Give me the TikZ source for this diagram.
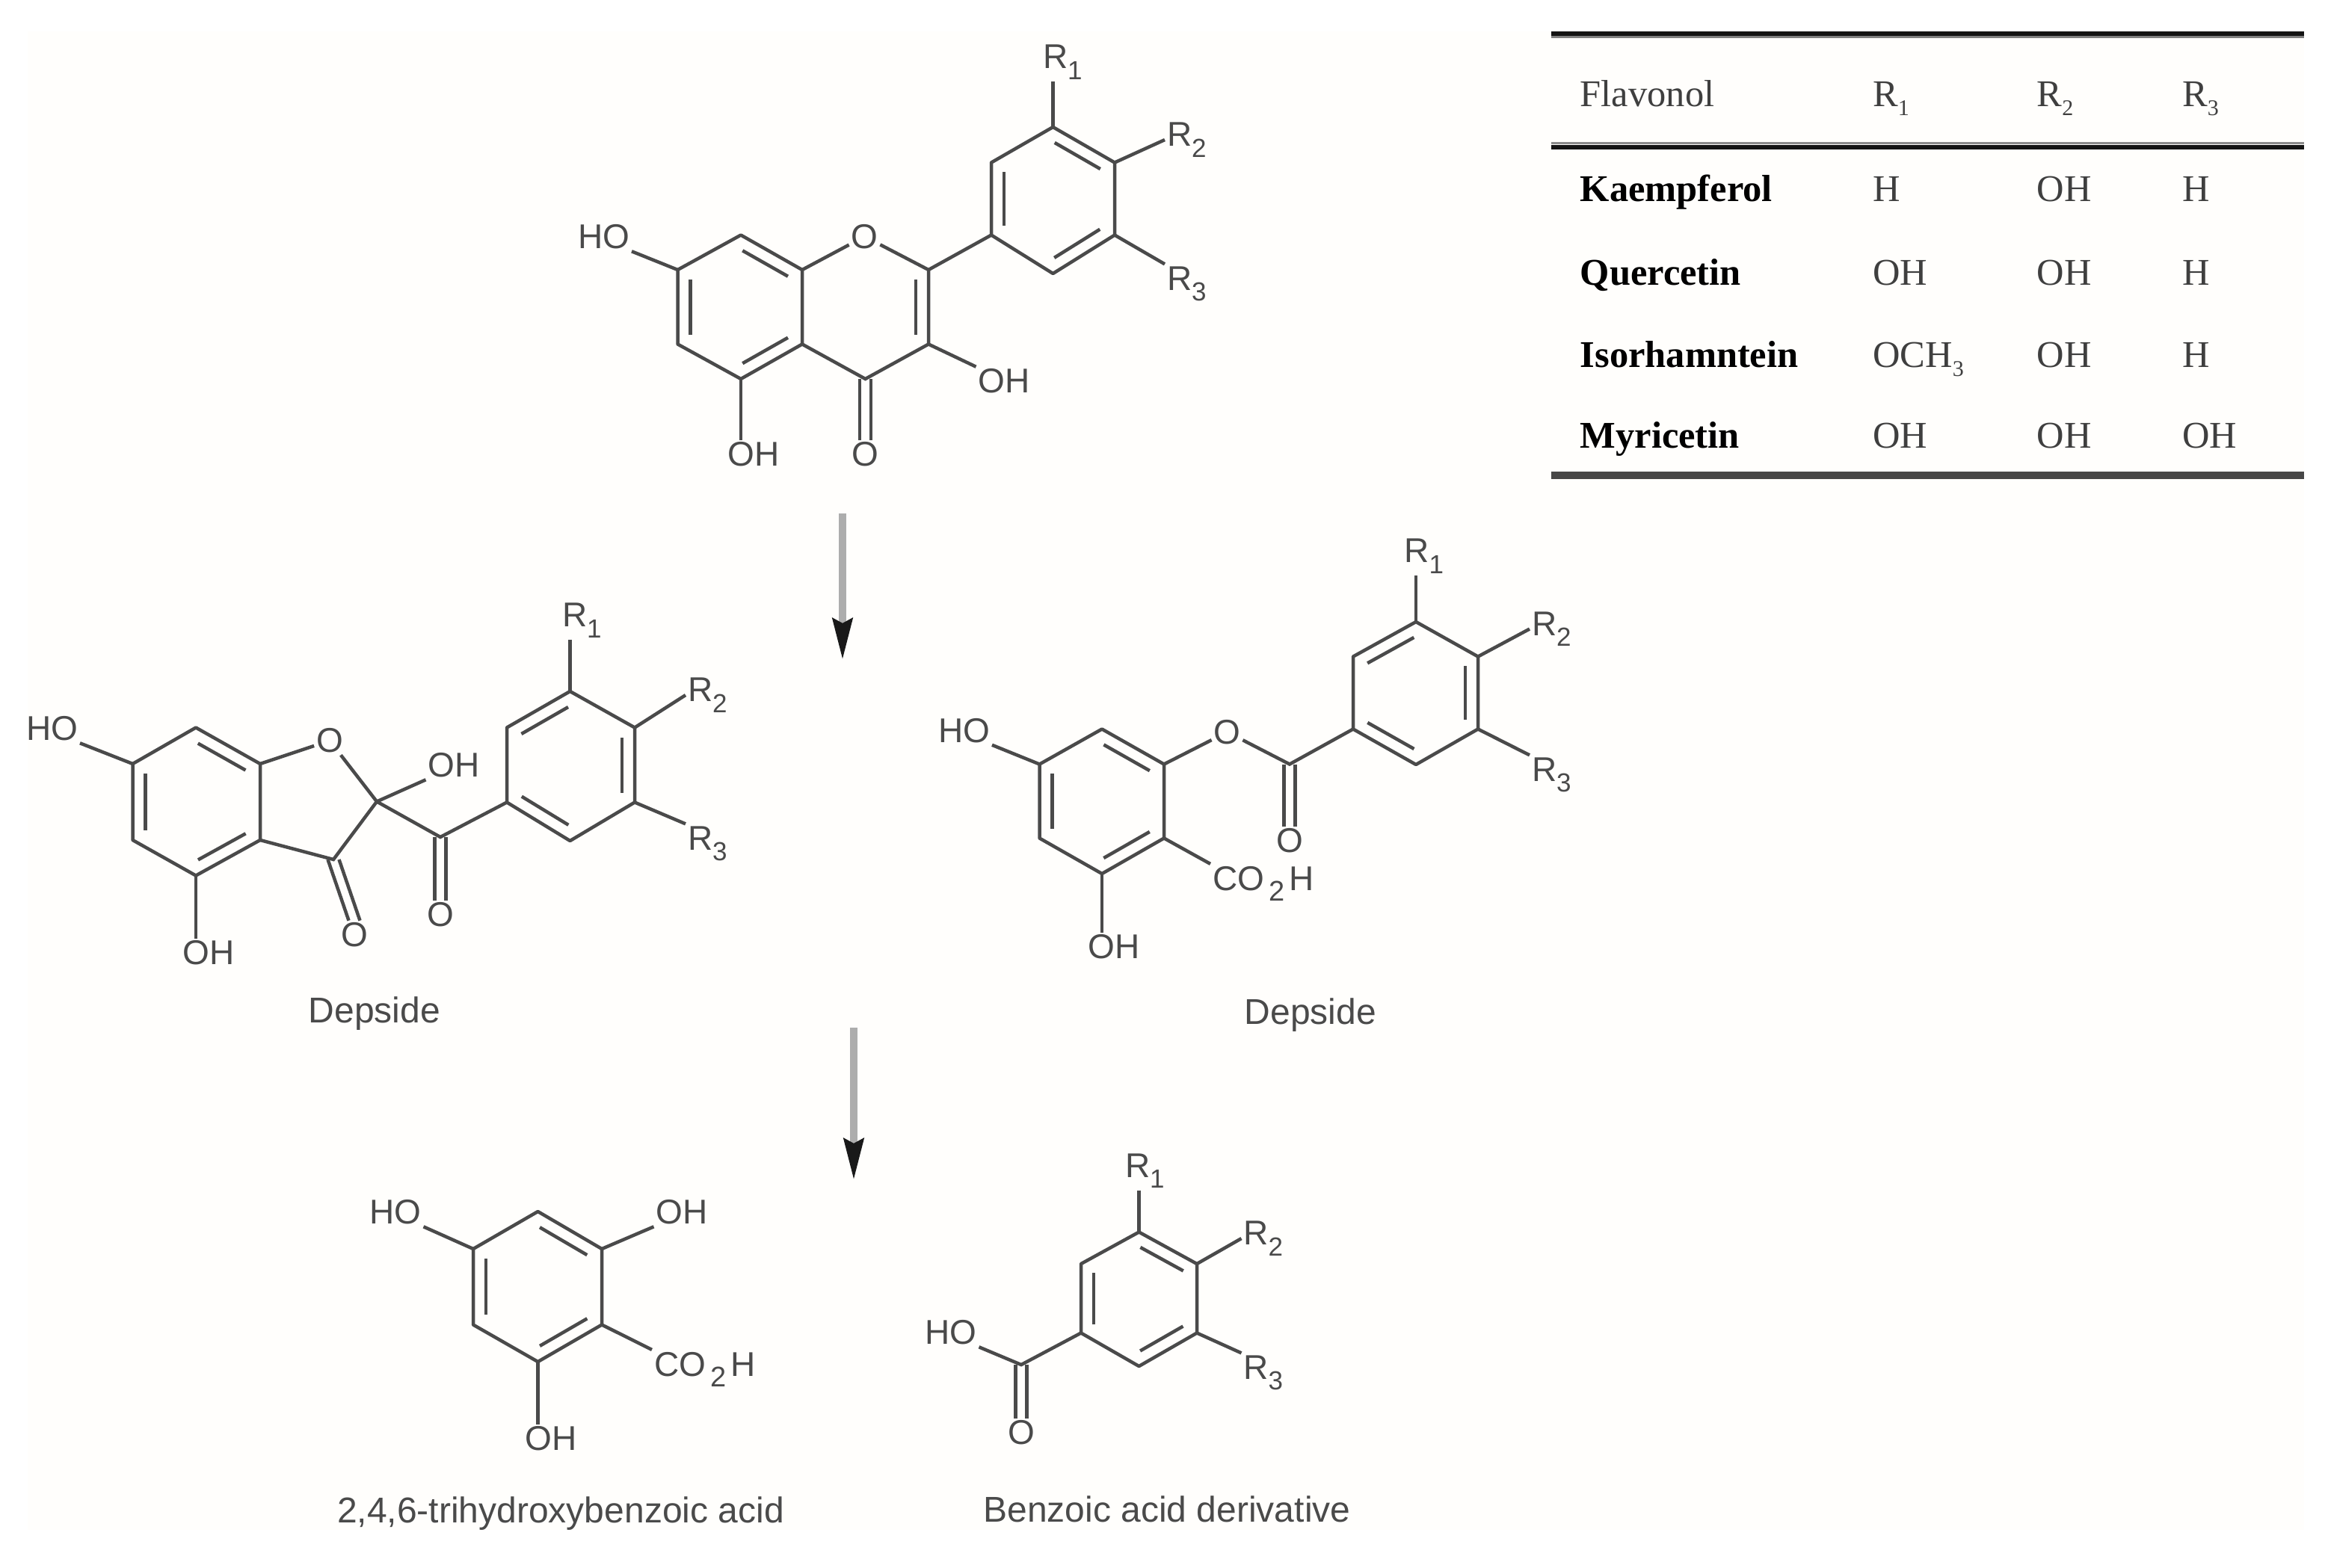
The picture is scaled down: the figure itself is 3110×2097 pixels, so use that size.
\documentclass[tikz,border=0pt]{standalone}
\usepackage{fontspec}
\setmainfont{Liberation Sans}
\newfontfamily\tabfont{Liberation Serif}
\usetikzlibrary{calc,arrows.meta}
\definecolor{ink}{HTML}{4A4A4A}
\definecolor{paper}{HTML}{FFFEFC}
\newcommand{\sbs}[1]{\raisebox{-.32em}{\fontsize{35}{35}\selectfont #1}}
\newcommand{\sbg}[1]{\hspace{6pt}\raisebox{-.32em}{\fontsize{38}{38}\selectfont #1}\hspace{6pt}}
\newcommand{\tsbs}[1]{\raisebox{-.25em}{\fontsize{30}{30}\selectfont #1}}
\newcommand{\inbond}[2]{\draw[bond] ($(#1)!.13!(#2)!17pt!90:(#2)$) -- ($(#2)!.13!(#1)!17pt!-90:(#1)$);}
\newcommand{\dblo}[2]{\draw[bond] ([xshift=-7.5pt]#1) -- ([xshift=-7.5pt]#2); \draw[bond] ([xshift=7.5pt]#1) -- ([xshift=7.5pt]#2);}
\newcommand{\ringv}[7]{%
  \coordinate (#1t) at #2; \coordinate (#1ur) at #3; \coordinate (#1lr) at #4;
  \coordinate (#1b) at #5; \coordinate (#1ll) at #6; \coordinate (#1ul) at #7;
  \draw[bond,line join=round] (#1t)--(#1ur)--(#1lr)--(#1b)--(#1ll)--(#1ul)--cycle;}
\tikzset{
  x=1pt,y=-1pt,
  bond/.style={draw=ink,line width=4.5pt,line cap=butt},
  atom/.style={inner sep=3pt,outer sep=0pt,text=ink,font=\fontsize{46}{50}\selectfont},
  caption/.style={inner sep=0pt,text=ink,font=\fontsize{48}{52}\selectfont},
  cell/.style={anchor=base west,inner sep=0pt,text=ink!85!black,font=\tabfont\fontsize{50.5}{54}\selectfont},
  bcell/.style={anchor=base west,inner sep=0pt,text=black,font=\tabfont\bfseries\fontsize{50.5}{54}\selectfont},
  react/.style={draw=black!32,line width=10pt,-{Stealth[length=55pt,width=26pt,inset=6pt,color=black!90,fill=black!90]}},
}
\begin{document}
\begin{tikzpicture}
\useasboundingbox (0,0) rectangle (3110,2097);
\fill[white] (0,0) rectangle (3110,2097);
\fill[paper] (37,42) rectangle (3082,2047);

% Flavonol
\ringv{fa}{(991,314.5)}{(1073,361)}{(1073,460.5)}{(991,507)}{(906.5,460.5)}{(906.5,361)}
\ringv{fb}{(1408.5,170)}{(1491,217.5)}{(1491,314.5)}{(1408.5,366)}{(1326,314.5)}{(1326,217.5)}
\coordinate (fc2) at (1242,361); \coordinate (fc3) at (1242,460.5); \coordinate (fc4) at (1157.5,507);
\node[atom] (fO) at (1156.5,316.5) {O};
\node[atom] (fHO) at (807.5,317) {HO};
\node[atom] (fOH3) at (1343,510) {OH};
\node[atom] (fOH5) at (1008,608) {OH};
\node[atom] (fO4) at (1157.5,608) {O};
\node[atom,anchor=base west] (fR1) at (1392,91.5) {R\sbs{1}};
\node[atom,anchor=base west] (fR2) at (1558,195.5) {R\sbs{2}};
\node[atom,anchor=base west] (fR3) at (1558,388) {R\sbs{3}};
\draw[bond] (fR1.south -| fbt) -- (fbt);
\draw[bond] (fbur) -- (fR2.west);
\draw[bond] (fblr) -- (fR3.north west);
\draw[bond] (faul) -- (fHO.south east);
\draw[bond] (faur) -- (fO) -- (fc2) -- (fbll);
\draw[bond] (fc2) -- (fc3) -- (fc4) -- (falr);
\draw[bond] (fc3) -- (fOH3.north west);
\draw[bond] (fab) -- (fab |- fOH5.north);
\dblo{fc4}{fO4.north}
\inbond{faur}{fat}\inbond{faul}{fall}\inbond{fab}{falr}
\inbond{fc3}{fc2}
\inbond{fbur}{fbt}\inbond{fbul}{fbll}\inbond{fbb}{fblr}

% Table
\draw[line width=7pt,black!92] (2075,45) -- (3082,45);
\draw[line width=3pt,black!50] (2075,49.5) -- (3082,49.5);
\draw[line width=3.5pt,black!45] (2075,191.5) -- (3082,191.5);
\draw[line width=6pt,black!92] (2075,196.5) -- (3082,196.5);
\draw[line width=10pt,black!72] (2075,636) -- (3082,636);
\node[cell] (h0) at (2113.5,142) {Flavonol};
\node[cell] (h1) at (2505,142) {R\tsbs{1}};
\node[cell] (h2) at (2724.5,142) {R\tsbs{2}};
\node[cell] (h3) at (2919,142) {R\tsbs{3}};
\node[bcell] (k0) at (2113.5,269) {Kaempferol};
\node[cell] (k1) at (2505,269) {H};
\node[cell] (k2) at (2724.5,269) {OH};
\node[cell] (k3) at (2919,269) {H};
\node[bcell] (q0) at (2113.5,381) {Quercetin};
\node[cell] (q1) at (2505,381) {OH};
\node[cell] (q2) at (2724.5,381) {OH};
\node[cell] (q3) at (2919,381) {H};
\node[bcell] (i0) at (2113.5,491) {Isorhamntein};
\node[cell] (i1) at (2505,491) {OCH\tsbs{3}};
\node[cell] (i2) at (2724.5,491) {OH};
\node[cell] (i3) at (2919,491) {H};
\node[bcell] (m0) at (2113.5,599) {Myricetin};
\node[cell] (m1) at (2505,599) {OH};
\node[cell] (m2) at (2724.5,599) {OH};
\node[cell] (m3) at (2919,599) {OH};

% Reaction arrows
\coordinate (a1s) at (1127,687); \coordinate (a1e) at (1127,883);
\draw[react] (a1s) -- (a1e);
\coordinate (a2s) at (1142,1375); \coordinate (a2e) at (1142,1579);
\draw[react] (a2s) -- (a2e);

% Left depside
\ringv{la}{(262,973.5)}{(348,1022)}{(348,1124)}{(262,1171.5)}{(177.5,1124)}{(177.5,1022)}
\ringv{lb}{(762.5,925)}{(849,973.5)}{(849,1073.5)}{(762.5,1125)}{(678,1073.5)}{(678,973.5)}
\node[atom] (lO) at (441,991) {O};
\coordinate (lc2) at (504,1072.5); \coordinate (lc3) at (446,1150); \coordinate (lco) at (589,1120);
\node[atom] (lHO) at (69.5,975) {HO};
\node[atom] (lOHb) at (279,1275) {OH};
\node[atom] (lOH) at (607,1024) {OH};
\node[atom] (lO3) at (474,1251) {O};
\node[atom] (lO4) at (589,1224) {O};
\node[atom,anchor=base west] (lR1) at (749,838.5) {R\sbs{1}};
\node[atom,anchor=base west] (lR2) at (917,938.5) {R\sbs{2}};
\node[atom,anchor=base west] (lR3) at (917,1137) {R\sbs{3}};
\draw[bond] (lR1.south -| lbt) -- (lbt);
\draw[bond] (lbur) -- (lR2.west);
\draw[bond] (lblr) -- (lR3.north west);
\draw[bond] (laul) -- (lHO.south east);
\draw[bond] (lab) -- (lab |- lOHb.north);
\draw[bond] (laur) -- (lO) -- (lc2) -- (lc3) -- (lalr);
\draw[bond] (lc2) -- (lOH.south west);
\draw[bond] (lc2) -- (lco) -- (lbll);
\dblo{lc3}{lO3.north}
\dblo{lco}{lO4.north}
\inbond{laur}{lat}\inbond{laul}{lall}\inbond{lab}{lalr}
\inbond{lbt}{lbul}\inbond{lblr}{lbur}\inbond{lbll}{lbb}
\node[caption] (lcap) at (501,1356) {Depside};

% Right depside
\ringv{ra}{(1474,975.5)}{(1557,1022.5)}{(1557,1121.5)}{(1474,1169)}{(1390.5,1121.5)}{(1390.5,1022.5)}
\ringv{rb}{(1894,832)}{(1977,878.5)}{(1977,975.5)}{(1894,1023)}{(1810,975.5)}{(1810,878.5)}
\node[atom] (rO) at (1641.5,979.5) {O};
\coordinate (rco) at (1725,1022.5);
\node[atom] (rHO) at (1289.5,977.5) {HO};
\node[atom] (rOH) at (1490,1267) {OH};
\node[atom] (rO2) at (1725,1125) {O};
\node[atom,anchor=base west] (rCO) at (1619,1191) {CO\sbg{2}H};
\node[atom,anchor=base west] (rR1) at (1875.5,752.5) {R\sbs{1}};
\node[atom,anchor=base west] (rR2) at (2046,850) {R\sbs{2}};
\node[atom,anchor=base west] (rR3) at (2046,1045) {R\sbs{3}};
\draw[bond] (rR1.south -| rbt) -- (rbt);
\draw[bond] (rbur) -- (rR2.west);
\draw[bond] (rblr) -- (rR3.north west);
\draw[bond] (raul) -- (rHO.south east);
\draw[bond] (rab) -- (rab |- rOH.north);
\draw[bond] (raur) -- (rO) -- (rco) -- (rbll);
\draw[bond] (ralr) -- (rCO.north west);
\dblo{rco}{rO2.north}
\inbond{raur}{rat}\inbond{raul}{rall}\inbond{rab}{ralr}
\inbond{rbt}{rbul}\inbond{rblr}{rbur}\inbond{rbll}{rbb}
\node[caption] (rcap) at (1753,1358) {Depside};

% 2,4,6-trihydroxybenzoic acid
\ringv{ta}{(719.5,1621)}{(805,1671)}{(805,1772.5)}{(719.5,1822)}{(633,1772.5)}{(633,1671)}
\node[atom] (tHO) at (529,1622) {HO};
\node[atom] (tOH) at (912,1622) {OH};
\node[atom] (tOHb) at (737,1925) {OH};
\node[atom,anchor=base west] (tCO) at (872,1841) {CO\sbg{2}H};
\draw[bond] (taul) -- (tHO.south east);
\draw[bond] (taur) -- (tOH.south west);
\draw[bond] (talr) -- (tCO.north west);
\draw[bond] (tab) -- (tab |- tOHb.north);
\inbond{taur}{tat}\inbond{taul}{tall}\inbond{tab}{talr}
\node[caption] (tcap) at (750,2025) {2,4,6-trihydroxybenzoic acid};

% Benzoic acid derivative
\ringv{ba}{(1523.5,1648.5)}{(1601,1691)}{(1601,1783.5)}{(1523.5,1828)}{(1446,1783.5)}{(1446,1691)}
\coordinate (bco) at (1366,1826);
\node[atom] (bHO) at (1272,1783) {HO};
\node[atom] (bO) at (1366,1917) {O};
\node[atom,anchor=base west] (bR1) at (1502,1575) {R\sbs{1}};
\node[atom,anchor=base west] (bR2) at (1660.5,1665.5) {R\sbs{2}};
\node[atom,anchor=base west] (bR3) at (1660.5,1845) {R\sbs{3}};
\draw[bond] (bR1.south -| bat) -- (bat);
\draw[bond] (baur) -- (bR2.west);
\draw[bond] (balr) -- (bR3.north west);
\draw[bond] (ball) -- (bco) -- (bHO.south east);
\dblo{bco}{bO.north}
\inbond{baur}{bat}\inbond{baul}{ball}\inbond{bab}{balr}
\node[caption] (bcap) at (1561,2019) {Benzoic acid derivative};
\end{tikzpicture}
\end{document}
